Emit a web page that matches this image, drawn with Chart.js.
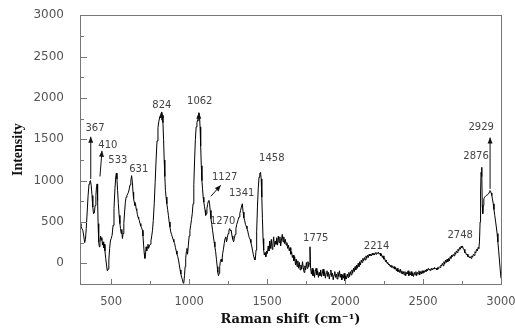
<!DOCTYPE html>
<html>
<head>
<meta charset="utf-8">
<title>Raman spectrum</title>
<script src="https://cdn.jsdelivr.net/npm/chart.js@4.4.1/dist/chart.umd.min.js"></script>
<style>
  html, body { margin: 0; padding: 0; background: #fff; }
  canvas { display: block; }
</style>
</head>
<body>
<canvas id="raman" width="515" height="329"></canvas>
<script>
// Raman spectrum, shift (cm-1) vs intensity
const ramanShift = [
  300, 306, 312, 318, 324, 330, 335, 340, 346, 352, 358, 363, 367, 372, 377, 382, 387, 392, 397, 402,
  406, 410, 413, 416, 420, 424, 428, 432, 436, 440, 444, 448, 452, 456, 460, 465, 470, 475, 480, 485,
  490, 495, 500, 506, 512, 518, 524, 530, 533, 537, 541, 546, 551, 556, 560, 564, 568, 572, 576, 581,
  586, 591, 596, 601, 606, 611, 616, 621, 626, 631, 636, 640, 644, 648, 652, 656, 660, 664, 668, 672,
  676, 680, 685, 690, 695, 700, 704, 708, 712, 716, 720, 724, 728, 732, 736, 740, 745, 750, 755, 760,
  765, 770, 776, 782, 788, 794, 800, 806, 812, 818, 824, 828, 832, 836, 840, 844, 848, 852, 857, 862,
  867, 872, 877, 882, 887, 892, 897, 902, 907, 912, 917, 922, 927, 932, 937, 942, 947, 952, 957, 962,
  966, 970, 974, 978, 982, 986, 990, 995, 1000, 1005, 1010, 1015, 1020, 1025, 1030, 1035, 1040, 1045, 1050, 1055,
  1059, 1062, 1066, 1070, 1074, 1078, 1082, 1086, 1090, 1094, 1098, 1102, 1106, 1110, 1114, 1118, 1123, 1127, 1131, 1135,
  1140, 1145, 1150, 1155, 1160, 1165, 1170, 1175, 1180, 1184, 1188, 1192, 1196, 1200, 1205, 1210, 1215, 1220, 1225, 1230,
  1235, 1240, 1245, 1250, 1255, 1260, 1265, 1270, 1275, 1280, 1285, 1290, 1295, 1300, 1305, 1310, 1315, 1320, 1325, 1330,
  1335, 1341, 1346, 1351, 1356, 1361, 1366, 1371, 1376, 1381, 1386, 1391, 1396, 1401, 1406, 1411, 1416, 1421, 1425, 1429,
  1433, 1438, 1443, 1448, 1453, 1458, 1462, 1466, 1470, 1474, 1478, 1482, 1487, 1492, 1497, 1502, 1507, 1512, 1517, 1522,
  1527, 1532, 1537, 1542, 1547, 1552, 1557, 1562, 1567, 1572, 1577, 1582, 1587, 1592, 1597, 1602, 1607, 1612, 1617, 1622,
  1627, 1632, 1637, 1642, 1647, 1652, 1657, 1662, 1667, 1672, 1677, 1682, 1687, 1692, 1697, 1702, 1707, 1712, 1717, 1722,
  1727, 1732, 1737, 1742, 1747, 1752, 1757, 1762, 1767, 1771, 1775, 1779, 1784, 1789, 1794, 1799, 1804, 1809, 1814, 1819,
  1824, 1829, 1834, 1839, 1844, 1849, 1854, 1859, 1864, 1869, 1874, 1879, 1884, 1889, 1894, 1899, 1904, 1909, 1914, 1919,
  1924, 1929, 1934, 1939, 1944, 1949, 1954, 1959, 1964, 1969, 1974, 1979, 1984, 1989, 1994, 1999, 2004, 2009, 2014, 2019,
  2024, 2029, 2034, 2039, 2044, 2049, 2054, 2059, 2064, 2069, 2074, 2079, 2084, 2089, 2094, 2099, 2104, 2109, 2114, 2119,
  2124, 2129, 2134, 2139, 2144, 2149, 2154, 2159, 2164, 2169, 2174, 2179, 2184, 2189, 2194, 2199, 2204, 2209, 2214, 2219,
  2224, 2229, 2234, 2239, 2244, 2249, 2254, 2259, 2264, 2269, 2274, 2279, 2284, 2289, 2294, 2299, 2304, 2309, 2314, 2319,
  2324, 2329, 2334, 2339, 2344, 2349, 2354, 2359, 2364, 2369, 2374, 2379, 2384, 2389, 2394, 2399, 2404, 2409, 2414, 2419,
  2424, 2429, 2434, 2439, 2444, 2449, 2454, 2459, 2464, 2469, 2474, 2479, 2484, 2489, 2494, 2499, 2504, 2509, 2514, 2519,
  2524, 2529, 2534, 2539, 2544, 2549, 2554, 2559, 2564, 2569, 2574, 2579, 2584, 2589, 2594, 2599, 2604, 2609, 2614, 2619,
  2624, 2629, 2634, 2639, 2644, 2649, 2654, 2659, 2664, 2669, 2674, 2679, 2684, 2689, 2694, 2699, 2704, 2709, 2714, 2719,
  2724, 2729, 2734, 2739, 2744, 2748, 2753, 2758, 2763, 2768, 2773, 2778, 2783, 2788, 2793, 2798, 2803, 2808, 2813, 2818,
  2823, 2828, 2833, 2838, 2843, 2848, 2853, 2858, 2862, 2866, 2869, 2872, 2876, 2878, 2880, 2883, 2886, 2890, 2895, 2900,
  2905, 2910, 2915, 2920, 2925, 2929, 2933, 2937, 2941, 2945, 2950, 2955, 2960, 2965, 2970, 2975, 2980, 2985, 2990, 2995,
  3000
];
const intensity = [
  480, 450, 420, 400, 330, 250, 290, 420, 620, 820, 960, 990, 1000, 940, 820, 680, 600, 610, 700, 820,
  930, 960, 760, 480, 260, 200, 250, 330, 280, 310, 220, 260, 190, 230, 150, 60, -20, -90, -70, 40,
  180, 270, 300, 340, 460, 660, 900, 1060, 1090, 1020, 880, 720, 580, 480, 420, 360, 410, 300, 360, 480,
  620, 740, 800, 820, 840, 860, 900, 950, 1000, 1060, 980, 860, 780, 740, 700, 720, 660, 640, 590, 560,
  540, 520, 480, 450, 430, 400, 330, 220, 120, 60, 110, 200, 150, 200, 230, 180, 210, 230, 270, 330,
  400, 520, 720, 980, 1250, 1480, 1640, 1720, 1770, 1800, 1830, 1790, 1700, 1500, 1250, 1050, 880, 800, 720, 650,
  580, 500, 440, 380, 350, 320, 290, 260, 240, 190, 150, 110, 80, 40, -20, -80, -130, -170, -200, -240,
  -230, -150, -40, 60, 140, 180, 110, 220, 330, 400, 460, 530, 600, 720, 950, 1250, 1500, 1650, 1700, 1740,
  1790, 1820, 1790, 1650, 1420, 1180, 1000, 900, 800, 740, 690, 640, 580, 600, 660, 710, 750, 760, 720, 640,
  540, 470, 400, 330, 260, 200, 140, 50, -40, -110, -150, -120, -40, 20, 50, 20, 120, 170, 240, 300,
  320, 260, 310, 360, 400, 420, 390, 400, 330, 290, 260, 300, 350, 420, 470, 500, 530, 560, 600, 640,
  680, 720, 620, 550, 520, 470, 450, 420, 390, 340, 310, 290, 250, 210, 160, 110, 70, 40, 60, 160,
  380, 680, 900, 1040, 1090, 1100, 1020, 800, 540, 300, 160, 100, 130, 80, 150, 120, 210, 150, 270, 180,
  290, 170, 240, 320, 200, 270, 230, 310, 220, 330, 250, 320, 210, 280, 350, 260, 320, 240, 290, 220,
  250, 180, 220, 150, 190, 110, 140, 70, 100, 30, 80, -20, 50, -40, 30, -60, 10, -80, -20, -70,
  20, -50, -110, -30, -80, 10, -60, 20, -40, 0, 200, -60, -130, -60, -150, -80, -170, -100, -60, -140,
  -90, -170, -110, -150, -80, -160, -120, -70, -150, -100, -180, -120, -90, -160, -110, -190, -130, -80, -160, -120,
  -200, -140, -100, -170, -130, -190, -110, -160, -90, -170, -130, -200, -140, -180, -120, -210, -150, -190, -130, -170,
  -110, -160, -100, -140, -80, -120, -60, -100, -40, -80, -20, -60, 0, -40, 20, -20, 40, 10, 60, 30,
  70, 40, 90, 60, 100, 70, 110, 90, 110, 90, 120, 100, 120, 100, 130, 110, 130, 120, 135, 110,
  125, 90, 110, 70, 90, 50, 60, 20, 40, 0, 10, -20, -10, -40, -20, -50, -30, -60, -40, -70,
  -50, -90, -60, -100, -80, -110, -70, -120, -90, -130, -100, -140, -100, -150, -110, -130, -90, -150, -110, -140,
  -100, -150, -120, -160, -110, -140, -100, -150, -110, -130, -90, -140, -100, -130, -90, -120, -90, -110, -80, -100,
  -70, -90, -60, -80, -70, -90, -60, -80, -60, -70, -50, -70, -60, -80, -50, -70, -40, -50, -20, -30,
  0, -30, 20, -10, 40, 10, 50, 20, 60, 30, 80, 60, 100, 80, 110, 90, 130, 110, 150, 130,
  170, 150, 190, 170, 205, 190, 210, 175, 170, 130, 135, 100, 110, 80, 90, 65, 80, 60, 90, 75,
  110, 95, 140, 125, 170, 150, 190, 180, 260, 500, 850, 1100, 1160, 1050, 700, 600, 700, 780, 800, 810,
  820, 820, 830, 840, 860, 880, 870, 850, 820, 780, 720, 650, 580, 510, 440, 360, 260, 150, 40, -80,
  -180
];

// axis ticks
const xTicks = [500, 1000, 1500, 2000, 2500, 3000];
const xMinorTicks = [750, 1250, 1750, 2250, 2750];
const yTicks = [0, 500, 1000, 1500, 2000, 2500, 3000];
const yMinorTicks = [250, 750, 1250, 1750, 2250, 2750];

// peak assignments
const peakLabels = ['367', '410', '533', '631', '824', '1062', '1127', '1270', '1341', '1458', '1775', '2214', '2748', '2876', '2929'];

// where each peak label sits, in data units
const labelSpots = [
  [396, 1634], [479, 1428], [543, 1246], [677, 1137], [825, 1912], [1068, 1960], [1228, 1040], [1215, 508],
  [1337, 847], [1530, 1270], [1812, 302], [2202, 206], [2738, 339], [2840, 1295], [2873, 1646]
];
// arrows: [x0, y0, x1, y1] in data units, head at the second point
const arrowLines = [
  [369, 1020, 369, 1530], [428, 1050, 441, 1360], [1139, 810, 1203, 944], [2930, 900, 2930, 1520],
  [824, 1730, 824, 1830], [1062, 1720, 1062, 1820]
];

function drawArrow(ctx, x0, y0, x1, y1) {
  const ang = Math.atan2(y1 - y0, x1 - x0);
  const len = 6, half = 2.5;
  ctx.beginPath();
  ctx.moveTo(x0, y0);
  ctx.lineTo(x1, y1);
  ctx.stroke();
  ctx.beginPath();
  ctx.moveTo(x1, y1);
  ctx.lineTo(x1 - len * Math.cos(ang) + half * Math.sin(ang), y1 - len * Math.sin(ang) - half * Math.cos(ang));
  ctx.lineTo(x1 - len * Math.cos(ang) - half * Math.sin(ang), y1 - len * Math.sin(ang) + half * Math.cos(ang));
  ctx.closePath();
  ctx.fill();
}

// frame, inward ticks, peak labels and arrows
const spectrumDecor = {
  id: 'spectrumDecor',
  afterDraw(chart) {
    const { ctx, chartArea: a, scales: { x, y } } = chart;
    ctx.save();

    ctx.strokeStyle = '#777';
    ctx.lineWidth = 1;
    const tick = (px, py, dx, dy) => {
      ctx.beginPath();
      ctx.moveTo(px, py);
      ctx.lineTo(px + dx, py + dy);
      ctx.stroke();
    };
    xTicks.forEach(v => tick(Math.round(x.getPixelForValue(v)) + 0.5, a.bottom, 0, -5));
    xMinorTicks.forEach(v => tick(Math.round(x.getPixelForValue(v)) + 0.5, a.bottom, 0, -3));
    yTicks.forEach(v => tick(a.left, Math.round(y.getPixelForValue(v)) + 0.5, 7, 0));
    yMinorTicks.forEach(v => tick(a.left, Math.round(y.getPixelForValue(v)) + 0.5, 4, 0));

    ctx.strokeRect(Math.round(a.left) + 0.5, Math.round(a.top) + 0.5,
      Math.round(a.right - a.left), Math.round(a.bottom - a.top));

    ctx.fillStyle = '#444';
    ctx.font = '10px "DejaVu Sans"';
    ctx.textAlign = 'center';
    ctx.textBaseline = 'middle';
    peakLabels.forEach((t, i) => {
      ctx.fillText(t, x.getPixelForValue(labelSpots[i][0]), y.getPixelForValue(labelSpots[i][1]));
    });

    ctx.strokeStyle = '#111';
    ctx.fillStyle = '#111';
    ctx.lineWidth = 1;
    arrowLines.forEach(([x0, y0, x1, y1]) => {
      drawArrow(ctx, x.getPixelForValue(x0), y.getPixelForValue(y0), x.getPixelForValue(x1), y.getPixelForValue(y1));
    });

    ctx.restore();
  }
};

new Chart(document.getElementById('raman'), {
  type: 'scatter',
  data: {
    datasets: [{
      data: ramanShift.map((v, i) => ({ x: v, y: intensity[i] })),
      showLine: true,
      borderColor: '#000',
      borderWidth: 1,
      pointRadius: 0,
      tension: 0
    }]
  },
  options: {
    responsive: false,
    animation: false,
    layout: { padding: { top: 15, right: 14 } },
    plugins: {
      legend: { display: false },
      tooltip: { enabled: false }
    },
    scales: {
      x: {
        type: 'linear',
        min: 300,
        max: 3000,
        grid: { display: false },
        border: { display: false },
        afterBuildTicks: s => { s.ticks = xTicks.map(v => ({ value: v })); },
        afterFit: s => {
          s.height = 45;
          // let the last label run to the canvas edge
          s.paddingLeft = 0;
          s.paddingRight = 0;
        },
        ticks: {
          font: { family: 'DejaVu Sans', size: 11.5 },
          color: '#555',
          padding: 3,
          maxRotation: 0,
          autoSkip: false,
          callback: v => String(v)
        },
        title: {
          display: true,
          text: 'Raman shift (cm⁻¹)',
          font: { family: 'DejaVu Serif', size: 13, weight: 'bold' },
          color: '#111',
          padding: { top: 4, bottom: 2 }
        }
      },
      y: {
        type: 'linear',
        min: -250,
        max: 3000,
        grid: { display: false },
        border: { display: false },
        afterBuildTicks: s => { s.ticks = yTicks.map(v => ({ value: v })); },
        afterFit: s => { s.width = 80; },
        ticks: {
          font: { family: 'DejaVu Sans', size: 12 },
          color: '#555',
          padding: 8,
          callback: v => String(v)
        },
        title: {
          display: true,
          text: 'Intensity',
          font: { family: 'Liberation Serif', size: 14, weight: 'bold' },
          color: '#111',
          padding: { top: 10, bottom: 10 }
        }
      }
    }
  },
  plugins: [spectrumDecor]
});
</script>
</body>
</html>
